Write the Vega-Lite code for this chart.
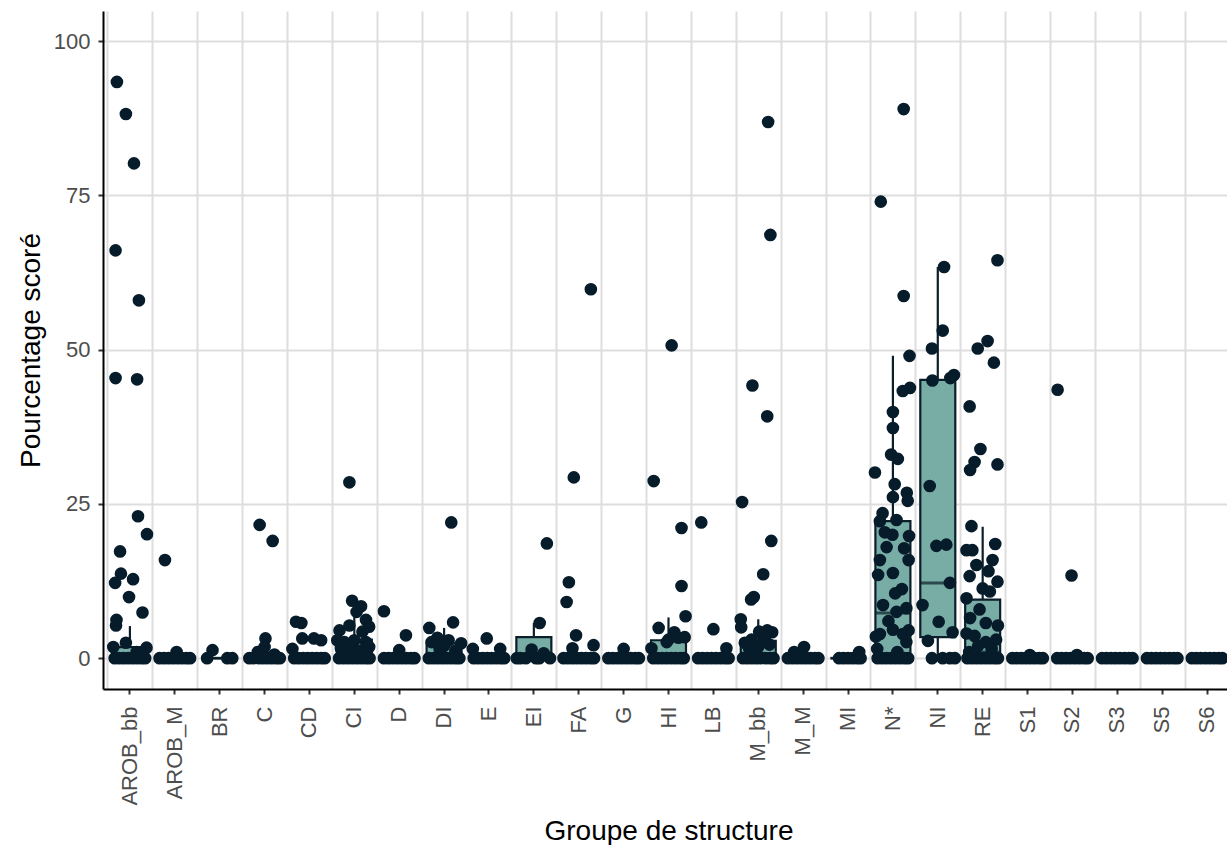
{
  "$schema": "https://vega.github.io/schema/vega-lite/v6.json",
  "width": 1124,
  "height": 678,
  "autosize": {"type": "none"},
  "padding": {"left": 103, "top": 11, "right": 0, "bottom": 156},
  "background": "white",
  "config": {
    "view": {"stroke": null},
    "font": "Liberation Sans",
    "axis": {
      "labelFont": "Liberation Sans",
      "titleFont": "Liberation Sans",
      "labelFontSize": 22,
      "labelColor": "#4d4d4d",
      "titleFontSize": 28,
      "titleFontWeight": "normal",
      "titleColor": "#000000",
      "domainColor": "#000000",
      "domainWidth": 2,
      "tickColor": "#333333",
      "tickWidth": 2,
      "tickSize": 5,
      "gridColor": "#dedede",
      "gridWidth": 2
    }
  },
  "datasets": {
    "boxes": [
      {"g": "AROB_bb", "lo": 0, "q1": 0, "med": 0, "q3": 1.8, "hi": 5.2},
      {"g": "AROB_M", "lo": 0, "q1": 0, "med": 0, "q3": 0, "hi": 0},
      {"g": "BR", "lo": 0, "q1": 0, "med": 0, "q3": 0, "hi": 0},
      {"g": "C", "lo": 0, "q1": 0, "med": 0, "q3": 0, "hi": 0},
      {"g": "CD", "lo": 0, "q1": 0, "med": 0, "q3": 0, "hi": 0},
      {"g": "CI", "lo": 0, "q1": 0, "med": 0.5, "q3": 3.0, "hi": 7.5},
      {"g": "D", "lo": 0, "q1": 0, "med": 0, "q3": 0, "hi": 0},
      {"g": "DI", "lo": 0, "q1": 0, "med": 0.3, "q3": 2.4, "hi": 4.9},
      {"g": "E", "lo": 0, "q1": 0, "med": 0, "q3": 0, "hi": 0},
      {"g": "EI", "lo": 0, "q1": 0, "med": 0, "q3": 3.4, "hi": 5.7},
      {"g": "FA", "lo": 0, "q1": 0, "med": 0, "q3": 0, "hi": 0},
      {"g": "G", "lo": 0, "q1": 0, "med": 0, "q3": 0, "hi": 0},
      {"g": "HI", "lo": 0, "q1": 0, "med": 0.3, "q3": 2.9, "hi": 6.6},
      {"g": "LB", "lo": 0, "q1": 0, "med": 0, "q3": 0, "hi": 0},
      {"g": "M_bb", "lo": 0, "q1": 0, "med": 0.5, "q3": 2.8, "hi": 6.3},
      {"g": "M_M", "lo": 0, "q1": 0, "med": 0, "q3": 0, "hi": 0},
      {"g": "MI", "lo": 0, "q1": 0, "med": 0, "q3": 0, "hi": 0},
      {"g": "N*", "lo": 0, "q1": 0, "med": 7.3, "q3": 22.2, "hi": 49.0},
      {"g": "NI", "lo": 0, "q1": 3.4, "med": 12.2, "q3": 45.1, "hi": 63.4},
      {"g": "RE", "lo": 0, "q1": 0, "med": 1.0, "q3": 9.5, "hi": 21.3},
      {"g": "S1", "lo": 0, "q1": 0, "med": 0, "q3": 0, "hi": 0},
      {"g": "S2", "lo": 0, "q1": 0, "med": 0, "q3": 0, "hi": 0},
      {"g": "S3", "lo": 0, "q1": 0, "med": 0, "q3": 0, "hi": 0},
      {"g": "S5", "lo": 0, "q1": 0, "med": 0, "q3": 0, "hi": 0},
      {"g": "S6", "lo": 0, "q1": 0, "med": 0, "q3": 0, "hi": 0}
    ],
    "points": [
      {"g": "AROB_bb", "v": 93.4, "j": -0.29}, {"g": "AROB_bb", "v": 88.2, "j": -0.09}, {"g": "AROB_bb", "v": 80.2, "j": 0.09},
      {"g": "AROB_bb", "v": 66.1, "j": -0.32}, {"g": "AROB_bb", "v": 58.0, "j": 0.2}, {"g": "AROB_bb", "v": 45.4, "j": -0.32},
      {"g": "AROB_bb", "v": 45.2, "j": 0.16}, {"g": "AROB_bb", "v": 23.0, "j": 0.18}, {"g": "AROB_bb", "v": 20.1, "j": 0.38},
      {"g": "AROB_bb", "v": 17.3, "j": -0.22}, {"g": "AROB_bb", "v": 13.7, "j": -0.2}, {"g": "AROB_bb", "v": 12.2, "j": -0.33},
      {"g": "AROB_bb", "v": 12.8, "j": 0.07}, {"g": "AROB_bb", "v": 9.9, "j": -0.02}, {"g": "AROB_bb", "v": 7.4, "j": 0.28},
      {"g": "AROB_bb", "v": 6.2, "j": -0.3}, {"g": "AROB_bb", "v": 5.3, "j": -0.31}, {"g": "AROB_bb", "v": 2.5, "j": -0.09},
      {"g": "AROB_bb", "v": 1.8, "j": -0.37}, {"g": "AROB_bb", "v": 1.7, "j": 0.37}, {"g": "AROB_bb", "v": 1.0, "j": 0.15},
      {"g": "AROB_bb", "v": 0, "j": -0.34}, {"g": "AROB_bb", "v": 0, "j": -0.24}, {"g": "AROB_bb", "v": 0, "j": -0.14}, {"g": "AROB_bb", "v": 0, "j": -0.04},
      {"g": "AROB_bb", "v": 0, "j": 0.06}, {"g": "AROB_bb", "v": 0, "j": 0.16}, {"g": "AROB_bb", "v": 0, "j": 0.26}, {"g": "AROB_bb", "v": 0, "j": 0.34},

      {"g": "AROB_M", "v": 15.9, "j": -0.22}, {"g": "AROB_M", "v": 1.0, "j": 0.04},
      {"g": "AROB_M", "v": 0, "j": -0.34}, {"g": "AROB_M", "v": 0, "j": -0.24}, {"g": "AROB_M", "v": 0, "j": -0.14}, {"g": "AROB_M", "v": 0, "j": -0.04},
      {"g": "AROB_M", "v": 0, "j": 0.06}, {"g": "AROB_M", "v": 0, "j": 0.16}, {"g": "AROB_M", "v": 0, "j": 0.26}, {"g": "AROB_M", "v": 0, "j": 0.34},

      {"g": "BR", "v": 1.3, "j": -0.16}, {"g": "BR", "v": 0, "j": -0.28}, {"g": "BR", "v": 0, "j": 0.17}, {"g": "BR", "v": 0, "j": 0.28},

      {"g": "C", "v": 21.6, "j": -0.11}, {"g": "C", "v": 19.0, "j": 0.18}, {"g": "C", "v": 3.2, "j": 0.02}, {"g": "C", "v": 1.8, "j": 0.0},
      {"g": "C", "v": 1.0, "j": -0.15}, {"g": "C", "v": 0.6, "j": 0.22},
      {"g": "C", "v": 0, "j": -0.34}, {"g": "C", "v": 0, "j": -0.24}, {"g": "C", "v": 0, "j": -0.14}, {"g": "C", "v": 0, "j": -0.04},
      {"g": "C", "v": 0, "j": 0.06}, {"g": "C", "v": 0, "j": 0.16}, {"g": "C", "v": 0, "j": 0.26}, {"g": "C", "v": 0, "j": 0.34},

      {"g": "CD", "v": 5.9, "j": -0.3}, {"g": "CD", "v": 5.7, "j": -0.18}, {"g": "CD", "v": 3.2, "j": -0.16}, {"g": "CD", "v": 3.2, "j": 0.1},
      {"g": "CD", "v": 2.9, "j": 0.26}, {"g": "CD", "v": 1.5, "j": -0.38},
      {"g": "CD", "v": 0, "j": -0.34}, {"g": "CD", "v": 0, "j": -0.24}, {"g": "CD", "v": 0, "j": -0.14}, {"g": "CD", "v": 0, "j": -0.04},
      {"g": "CD", "v": 0, "j": 0.06}, {"g": "CD", "v": 0, "j": 0.16}, {"g": "CD", "v": 0, "j": 0.26}, {"g": "CD", "v": 0, "j": 0.34},

      {"g": "CI", "v": 28.5, "j": -0.11}, {"g": "CI", "v": 9.3, "j": -0.05}, {"g": "CI", "v": 8.4, "j": 0.15}, {"g": "CI", "v": 7.5, "j": 0.05},
      {"g": "CI", "v": 6.2, "j": 0.26}, {"g": "CI", "v": 5.1, "j": 0.33}, {"g": "CI", "v": 5.3, "j": -0.11}, {"g": "CI", "v": 4.5, "j": -0.33},
      {"g": "CI", "v": 4.3, "j": 0.18}, {"g": "CI", "v": 2.9, "j": -0.38}, {"g": "CI", "v": 2.6, "j": -0.22}, {"g": "CI", "v": 2.9, "j": 0.0},
      {"g": "CI", "v": 2.6, "j": 0.26}, {"g": "CI", "v": 1.8, "j": 0.33}, {"g": "CI", "v": 1.8, "j": -0.11}, {"g": "CI", "v": 1.6, "j": -0.3},
      {"g": "CI", "v": 1.2, "j": 0.1},
      {"g": "CI", "v": 0, "j": -0.34}, {"g": "CI", "v": 0, "j": -0.24}, {"g": "CI", "v": 0, "j": -0.14}, {"g": "CI", "v": 0, "j": -0.04},
      {"g": "CI", "v": 0, "j": 0.06}, {"g": "CI", "v": 0, "j": 0.16}, {"g": "CI", "v": 0, "j": 0.26}, {"g": "CI", "v": 0, "j": 0.34},

      {"g": "D", "v": 7.6, "j": -0.34}, {"g": "D", "v": 3.7, "j": 0.15}, {"g": "D", "v": 1.3, "j": 0.0},
      {"g": "D", "v": 0, "j": -0.34}, {"g": "D", "v": 0, "j": -0.24}, {"g": "D", "v": 0, "j": -0.14}, {"g": "D", "v": 0, "j": -0.04},
      {"g": "D", "v": 0, "j": 0.06}, {"g": "D", "v": 0, "j": 0.16}, {"g": "D", "v": 0, "j": 0.26}, {"g": "D", "v": 0, "j": 0.34},

      {"g": "DI", "v": 22.0, "j": 0.16}, {"g": "DI", "v": 5.8, "j": 0.2}, {"g": "DI", "v": 4.9, "j": -0.33}, {"g": "DI", "v": 3.3, "j": -0.15},
      {"g": "DI", "v": 2.9, "j": 0.1}, {"g": "DI", "v": 2.6, "j": -0.28}, {"g": "DI", "v": 2.4, "j": 0.38}, {"g": "DI", "v": 2.0, "j": 0.0},
      {"g": "DI", "v": 1.5, "j": -0.1}, {"g": "DI", "v": 1.2, "j": 0.25},
      {"g": "DI", "v": 0, "j": -0.34}, {"g": "DI", "v": 0, "j": -0.24}, {"g": "DI", "v": 0, "j": -0.14}, {"g": "DI", "v": 0, "j": -0.04},
      {"g": "DI", "v": 0, "j": 0.06}, {"g": "DI", "v": 0, "j": 0.16}, {"g": "DI", "v": 0, "j": 0.26}, {"g": "DI", "v": 0, "j": 0.34},

      {"g": "E", "v": 3.2, "j": -0.05}, {"g": "E", "v": 1.5, "j": -0.36}, {"g": "E", "v": 1.5, "j": 0.25},
      {"g": "E", "v": 0, "j": -0.34}, {"g": "E", "v": 0, "j": -0.24}, {"g": "E", "v": 0, "j": -0.14}, {"g": "E", "v": 0, "j": -0.04},
      {"g": "E", "v": 0, "j": 0.06}, {"g": "E", "v": 0, "j": 0.16}, {"g": "E", "v": 0, "j": 0.26}, {"g": "E", "v": 0, "j": 0.34},

      {"g": "EI", "v": 18.6, "j": 0.29}, {"g": "EI", "v": 5.7, "j": 0.13}, {"g": "EI", "v": 1.4, "j": -0.05}, {"g": "EI", "v": 0.8, "j": 0.22},
      {"g": "EI", "v": 0, "j": -0.38}, {"g": "EI", "v": 0, "j": -0.3}, {"g": "EI", "v": 0, "j": -0.18}, {"g": "EI", "v": 0, "j": 0.05},
      {"g": "EI", "v": 0, "j": 0.12}, {"g": "EI", "v": 0, "j": 0.36},

      {"g": "FA", "v": 59.8, "j": 0.27}, {"g": "FA", "v": 29.3, "j": -0.11}, {"g": "FA", "v": 12.3, "j": -0.22}, {"g": "FA", "v": 9.1, "j": -0.27},
      {"g": "FA", "v": 3.7, "j": -0.06}, {"g": "FA", "v": 2.1, "j": 0.33}, {"g": "FA", "v": 1.6, "j": -0.14},
      {"g": "FA", "v": 0, "j": -0.34}, {"g": "FA", "v": 0, "j": -0.24}, {"g": "FA", "v": 0, "j": -0.14}, {"g": "FA", "v": 0, "j": -0.04},
      {"g": "FA", "v": 0, "j": 0.06}, {"g": "FA", "v": 0, "j": 0.16}, {"g": "FA", "v": 0, "j": 0.26}, {"g": "FA", "v": 0, "j": 0.34},

      {"g": "G", "v": 1.5, "j": 0.0},
      {"g": "G", "v": 0, "j": -0.34}, {"g": "G", "v": 0, "j": -0.24}, {"g": "G", "v": 0, "j": -0.14}, {"g": "G", "v": 0, "j": -0.04},
      {"g": "G", "v": 0, "j": 0.06}, {"g": "G", "v": 0, "j": 0.16}, {"g": "G", "v": 0, "j": 0.26}, {"g": "G", "v": 0, "j": 0.34},

      {"g": "HI", "v": 50.7, "j": 0.07}, {"g": "HI", "v": 28.7, "j": -0.33}, {"g": "HI", "v": 21.1, "j": 0.29}, {"g": "HI", "v": 11.7, "j": 0.29},
      {"g": "HI", "v": 6.8, "j": 0.38}, {"g": "HI", "v": 4.9, "j": -0.22}, {"g": "HI", "v": 4.2, "j": 0.13}, {"g": "HI", "v": 3.4, "j": 0.36},
      {"g": "HI", "v": 3.3, "j": 0.22}, {"g": "HI", "v": 3.0, "j": 0.0}, {"g": "HI", "v": 2.6, "j": -0.04}, {"g": "HI", "v": 1.6, "j": -0.38},
      {"g": "HI", "v": 0, "j": -0.34}, {"g": "HI", "v": 0, "j": -0.24}, {"g": "HI", "v": 0, "j": -0.14}, {"g": "HI", "v": 0, "j": -0.04},
      {"g": "HI", "v": 0, "j": 0.06}, {"g": "HI", "v": 0, "j": 0.16}, {"g": "HI", "v": 0, "j": 0.26}, {"g": "HI", "v": 0, "j": 0.34},

      {"g": "LB", "v": 22.0, "j": -0.27}, {"g": "LB", "v": 4.7, "j": 0.0}, {"g": "LB", "v": 1.6, "j": 0.29},
      {"g": "LB", "v": 0, "j": -0.34}, {"g": "LB", "v": 0, "j": -0.24}, {"g": "LB", "v": 0, "j": -0.14}, {"g": "LB", "v": 0, "j": -0.04},
      {"g": "LB", "v": 0, "j": 0.06}, {"g": "LB", "v": 0, "j": 0.16}, {"g": "LB", "v": 0, "j": 0.26}, {"g": "LB", "v": 0, "j": 0.34},

      {"g": "M_bb", "v": 86.9, "j": 0.22}, {"g": "M_bb", "v": 68.6, "j": 0.27}, {"g": "M_bb", "v": 44.2, "j": -0.13}, {"g": "M_bb", "v": 39.2, "j": 0.2},
      {"g": "M_bb", "v": 25.3, "j": -0.36}, {"g": "M_bb", "v": 19.0, "j": 0.29}, {"g": "M_bb", "v": 13.6, "j": 0.11}, {"g": "M_bb", "v": 9.9, "j": -0.1},
      {"g": "M_bb", "v": 9.5, "j": -0.16}, {"g": "M_bb", "v": 6.3, "j": -0.39}, {"g": "M_bb", "v": 5.0, "j": -0.38}, {"g": "M_bb", "v": 4.5, "j": 0.2},
      {"g": "M_bb", "v": 4.3, "j": 0.02}, {"g": "M_bb", "v": 4.2, "j": 0.31}, {"g": "M_bb", "v": 3.1, "j": 0.14}, {"g": "M_bb", "v": 3.0, "j": -0.15},
      {"g": "M_bb", "v": 2.5, "j": -0.3}, {"g": "M_bb", "v": 2.2, "j": 0.25}, {"g": "M_bb", "v": 1.8, "j": 0.0}, {"g": "M_bb", "v": 1.5, "j": -0.2},
      {"g": "M_bb", "v": 0, "j": -0.34}, {"g": "M_bb", "v": 0, "j": -0.24}, {"g": "M_bb", "v": 0, "j": -0.14}, {"g": "M_bb", "v": 0, "j": -0.04},
      {"g": "M_bb", "v": 0, "j": 0.06}, {"g": "M_bb", "v": 0, "j": 0.16}, {"g": "M_bb", "v": 0, "j": 0.26}, {"g": "M_bb", "v": 0, "j": 0.34},

      {"g": "M_M", "v": 1.8, "j": 0.02}, {"g": "M_M", "v": 1.0, "j": -0.2},
      {"g": "M_M", "v": 0, "j": -0.34}, {"g": "M_M", "v": 0, "j": -0.24}, {"g": "M_M", "v": 0, "j": -0.14}, {"g": "M_M", "v": 0, "j": -0.04},
      {"g": "M_M", "v": 0, "j": 0.06}, {"g": "M_M", "v": 0, "j": 0.16}, {"g": "M_M", "v": 0, "j": 0.26}, {"g": "M_M", "v": 0, "j": 0.34},

      {"g": "MI", "v": 1.0, "j": 0.25},
      {"g": "MI", "v": 0, "j": -0.2}, {"g": "MI", "v": 0, "j": -0.1}, {"g": "MI", "v": 0, "j": 0.0}, {"g": "MI", "v": 0, "j": 0.1},
      {"g": "MI", "v": 0, "j": 0.2}, {"g": "MI", "v": 0, "j": 0.28},

      {"g": "N*", "v": 89.0, "j": 0.24}, {"g": "N*", "v": 74.0, "j": -0.27}, {"g": "N*", "v": 58.7, "j": 0.24}, {"g": "N*", "v": 49.0, "j": 0.37},
      {"g": "N*", "v": 43.3, "j": 0.22}, {"g": "N*", "v": 43.8, "j": 0.38}, {"g": "N*", "v": 39.9, "j": 0.0}, {"g": "N*", "v": 37.3, "j": 0.0},
      {"g": "N*", "v": 33.0, "j": -0.04}, {"g": "N*", "v": 32.3, "j": 0.11}, {"g": "N*", "v": 30.1, "j": -0.4}, {"g": "N*", "v": 28.2, "j": 0.04},
      {"g": "N*", "v": 26.1, "j": 0.0}, {"g": "N*", "v": 26.8, "j": 0.31}, {"g": "N*", "v": 25.5, "j": 0.33}, {"g": "N*", "v": 23.5, "j": -0.23},
      {"g": "N*", "v": 22.2, "j": -0.29}, {"g": "N*", "v": 22.4, "j": 0.08}, {"g": "N*", "v": 20.4, "j": -0.18}, {"g": "N*", "v": 20.0, "j": -0.01},
      {"g": "N*", "v": 19.8, "j": 0.36}, {"g": "N*", "v": 18.0, "j": -0.14}, {"g": "N*", "v": 17.8, "j": 0.25}, {"g": "N*", "v": 15.9, "j": -0.29},
      {"g": "N*", "v": 15.9, "j": 0.35}, {"g": "N*", "v": 13.8, "j": 0.0}, {"g": "N*", "v": 13.5, "j": -0.33}, {"g": "N*", "v": 11.2, "j": 0.2},
      {"g": "N*", "v": 10.5, "j": 0.05}, {"g": "N*", "v": 8.6, "j": -0.22}, {"g": "N*", "v": 8.1, "j": 0.3}, {"g": "N*", "v": 7.5, "j": 0.08},
      {"g": "N*", "v": 6.0, "j": -0.1}, {"g": "N*", "v": 4.6, "j": 0.0}, {"g": "N*", "v": 3.9, "j": -0.29}, {"g": "N*", "v": 3.9, "j": 0.22},
      {"g": "N*", "v": 4.5, "j": 0.35}, {"g": "N*", "v": 3.5, "j": -0.38}, {"g": "N*", "v": 2.6, "j": 0.3}, {"g": "N*", "v": 1.5, "j": -0.35},
      {"g": "N*", "v": 1.0, "j": 0.1},
      {"g": "N*", "v": 0, "j": -0.34}, {"g": "N*", "v": 0, "j": -0.24}, {"g": "N*", "v": 0, "j": -0.14}, {"g": "N*", "v": 0, "j": -0.04},
      {"g": "N*", "v": 0, "j": 0.06}, {"g": "N*", "v": 0, "j": 0.16}, {"g": "N*", "v": 0, "j": 0.26}, {"g": "N*", "v": 0, "j": 0.34},

      {"g": "NI", "v": 63.4, "j": 0.14}, {"g": "NI", "v": 53.1, "j": 0.11}, {"g": "NI", "v": 50.2, "j": -0.13}, {"g": "NI", "v": 45.0, "j": -0.12},
      {"g": "NI", "v": 45.9, "j": 0.36}, {"g": "NI", "v": 45.4, "j": 0.28}, {"g": "NI", "v": 27.9, "j": -0.18}, {"g": "NI", "v": 18.2, "j": -0.03},
      {"g": "NI", "v": 18.4, "j": 0.19}, {"g": "NI", "v": 12.2, "j": 0.27}, {"g": "NI", "v": 8.6, "j": -0.34}, {"g": "NI", "v": 5.9, "j": 0.02},
      {"g": "NI", "v": 2.8, "j": -0.22}, {"g": "NI", "v": 4.2, "j": 0.33}, {"g": "NI", "v": 0, "j": -0.13}, {"g": "NI", "v": 0, "j": 0.11},
      {"g": "NI", "v": 0, "j": 0.27}, {"g": "NI", "v": 0, "j": 0.38},

      {"g": "RE", "v": 64.5, "j": 0.33}, {"g": "RE", "v": 50.2, "j": -0.11}, {"g": "RE", "v": 51.4, "j": 0.11}, {"g": "RE", "v": 47.9, "j": 0.25},
      {"g": "RE", "v": 40.8, "j": -0.29}, {"g": "RE", "v": 33.9, "j": -0.05}, {"g": "RE", "v": 31.8, "j": -0.18}, {"g": "RE", "v": 30.5, "j": -0.28},
      {"g": "RE", "v": 31.4, "j": 0.33}, {"g": "RE", "v": 21.4, "j": -0.25}, {"g": "RE", "v": 18.5, "j": 0.28}, {"g": "RE", "v": 17.5, "j": -0.36},
      {"g": "RE", "v": 17.5, "j": -0.23}, {"g": "RE", "v": 15.9, "j": 0.22}, {"g": "RE", "v": 15.1, "j": -0.14}, {"g": "RE", "v": 14.1, "j": 0.13},
      {"g": "RE", "v": 13.3, "j": -0.29}, {"g": "RE", "v": 12.4, "j": 0.33}, {"g": "RE", "v": 11.3, "j": 0.0}, {"g": "RE", "v": 10.8, "j": 0.16},
      {"g": "RE", "v": 9.7, "j": -0.36}, {"g": "RE", "v": 7.9, "j": -0.07}, {"g": "RE", "v": 6.5, "j": -0.28}, {"g": "RE", "v": 5.7, "j": 0.07},
      {"g": "RE", "v": 5.3, "j": 0.34}, {"g": "RE", "v": 4.0, "j": -0.36}, {"g": "RE", "v": 3.6, "j": -0.18}, {"g": "RE", "v": 2.6, "j": 0.07},
      {"g": "RE", "v": 3.0, "j": 0.3}, {"g": "RE", "v": 2.0, "j": -0.1}, {"g": "RE", "v": 1.5, "j": 0.2}, {"g": "RE", "v": 1.0, "j": -0.3},
      {"g": "RE", "v": 0, "j": -0.34}, {"g": "RE", "v": 0, "j": -0.24}, {"g": "RE", "v": 0, "j": -0.14}, {"g": "RE", "v": 0, "j": -0.04},
      {"g": "RE", "v": 0, "j": 0.06}, {"g": "RE", "v": 0, "j": 0.16}, {"g": "RE", "v": 0, "j": 0.26}, {"g": "RE", "v": 0, "j": 0.34},

      {"g": "S1", "v": 0.5, "j": 0.05},
      {"g": "S1", "v": 0, "j": -0.34}, {"g": "S1", "v": 0, "j": -0.24}, {"g": "S1", "v": 0, "j": -0.14}, {"g": "S1", "v": 0, "j": -0.04},
      {"g": "S1", "v": 0, "j": 0.06}, {"g": "S1", "v": 0, "j": 0.16}, {"g": "S1", "v": 0, "j": 0.26}, {"g": "S1", "v": 0, "j": 0.34},

      {"g": "S2", "v": 43.5, "j": -0.33}, {"g": "S2", "v": 13.4, "j": -0.02}, {"g": "S2", "v": 0.5, "j": 0.1},
      {"g": "S2", "v": 0, "j": -0.34}, {"g": "S2", "v": 0, "j": -0.24}, {"g": "S2", "v": 0, "j": -0.14}, {"g": "S2", "v": 0, "j": -0.04},
      {"g": "S2", "v": 0, "j": 0.06}, {"g": "S2", "v": 0, "j": 0.16}, {"g": "S2", "v": 0, "j": 0.26}, {"g": "S2", "v": 0, "j": 0.34},

      {"g": "S3", "v": 0, "j": -0.34}, {"g": "S3", "v": 0, "j": -0.24}, {"g": "S3", "v": 0, "j": -0.14}, {"g": "S3", "v": 0, "j": -0.04},
      {"g": "S3", "v": 0, "j": 0.06}, {"g": "S3", "v": 0, "j": 0.16}, {"g": "S3", "v": 0, "j": 0.26}, {"g": "S3", "v": 0, "j": 0.34},

      {"g": "S5", "v": 0, "j": -0.34}, {"g": "S5", "v": 0, "j": -0.24}, {"g": "S5", "v": 0, "j": -0.14}, {"g": "S5", "v": 0, "j": -0.04},
      {"g": "S5", "v": 0, "j": 0.06}, {"g": "S5", "v": 0, "j": 0.16}, {"g": "S5", "v": 0, "j": 0.26}, {"g": "S5", "v": 0, "j": 0.34},

      {"g": "S6", "v": 0, "j": -0.34}, {"g": "S6", "v": 0, "j": -0.24}, {"g": "S6", "v": 0, "j": -0.14}, {"g": "S6", "v": 0, "j": -0.04},
      {"g": "S6", "v": 0, "j": 0.06}, {"g": "S6", "v": 0, "j": 0.16}, {"g": "S6", "v": 0, "j": 0.26}, {"g": "S6", "v": 0, "j": 0.34}
    ]
  },
  "layer": [
    {
      "data": {"name": "boxes"},
      "mark": {"type": "rule", "color": "#0b1e2a", "strokeWidth": 2.2},
      "encoding": {
        "x": {
          "field": "g", "type": "nominal",
          "sort": ["AROB_bb", "AROB_M", "BR", "C", "CD", "CI", "D", "DI", "E", "EI", "FA", "G", "HI", "LB", "M_bb", "M_M", "MI", "N*", "NI", "RE", "S1", "S2", "S3", "S5", "S6"],
          "scale": {"type": "band", "paddingInner": 0, "paddingOuter": 0.1, "range": [0, 1131]},
          "axis": {"orient": "top", "tickBand": "extent", "grid": true, "labels": false, "ticks": false, "domain": false, "title": null}
        },
        "y": {
          "field": "lo", "type": "quantitative",
          "scale": {"domain": [-5, 104.9], "nice": false, "zero": false},
          "axis": {"values": [0, 25, 50, 75, 100], "title": "Pourcentage scoré", "labelPadding": 8, "titlePadding": 8, "grid": true}
        },
        "y2": {"field": "hi"}
      }
    },
    {
      "data": {"name": "boxes"},
      "mark": {"type": "bar", "width": 35, "fill": "#78ada6", "stroke": "#0b1e2a", "strokeWidth": 2.2},
      "encoding": {
        "x": {"field": "g", "type": "nominal", "sort": ["AROB_bb", "AROB_M", "BR", "C", "CD", "CI", "D", "DI", "E", "EI", "FA", "G", "HI", "LB", "M_bb", "M_M", "MI", "N*", "NI", "RE", "S1", "S2", "S3", "S5", "S6"], "axis": null},
        "y": {"field": "q1", "type": "quantitative", "axis": {"values": [0, 25, 50, 75, 100], "title": "Pourcentage scoré", "labelPadding": 8, "titlePadding": 8, "grid": true}},
        "y2": {"field": "q3"}
      }
    },
    {
      "data": {"name": "boxes"},
      "mark": {"type": "tick", "color": "#0b1e2a", "thickness": 3, "size": 35},
      "encoding": {
        "x": {"field": "g", "type": "nominal", "sort": ["AROB_bb", "AROB_M", "BR", "C", "CD", "CI", "D", "DI", "E", "EI", "FA", "G", "HI", "LB", "M_bb", "M_M", "MI", "N*", "NI", "RE", "S1", "S2", "S3", "S5", "S6"], "axis": null},
        "y": {"field": "med", "type": "quantitative", "axis": {"values": [0, 25, 50, 75, 100], "title": "Pourcentage scoré", "labelPadding": 8, "titlePadding": 8, "grid": true}}
      }
    },
    {
      "data": {"name": "points"},
      "mark": {"type": "circle", "size": 160, "color": "#071c2a", "opacity": 1},
      "encoding": {
        "x": {
          "field": "g", "type": "nominal",
          "sort": ["AROB_bb", "AROB_M", "BR", "C", "CD", "CI", "D", "DI", "E", "EI", "FA", "G", "HI", "LB", "M_bb", "M_M", "MI", "N*", "NI", "RE", "S1", "S2", "S3", "S5", "S6"],
          "axis": {"orient": "bottom", "grid": false, "labelAngle": -90, "labelPadding": 12, "title": "Groupe de structure", "titlePadding": 12}
        },
        "xOffset": {"field": "j", "type": "quantitative", "scale": {"domain": [-0.5, 0.5], "nice": false, "zero": false}},
        "y": {"field": "v", "type": "quantitative", "axis": {"values": [0, 25, 50, 75, 100], "title": "Pourcentage scoré", "labelPadding": 8, "titlePadding": 8, "grid": true}}
      }
    }
  ],
  "resolve": {"axis": {"x": "independent"}}
}
